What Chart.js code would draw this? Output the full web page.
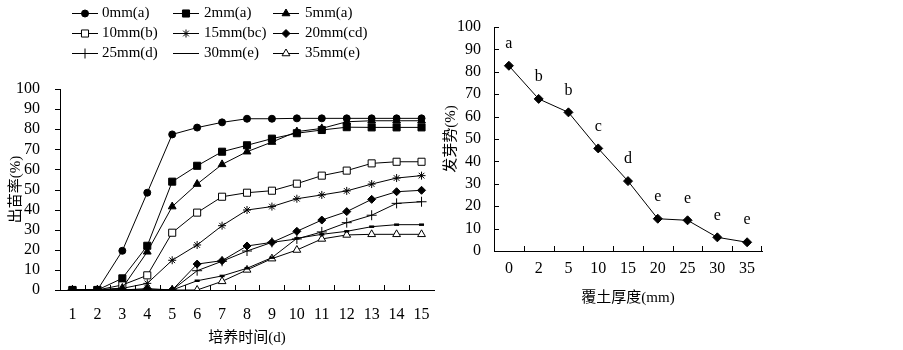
<!DOCTYPE html>
<html>
<head>
<meta charset="utf-8">
<script src="https://cdn.jsdelivr.net/npm/chart.js@4.4.1/dist/chart.umd.min.js"></script>
<style>
  body { margin: 0; background: #fff; width: 903px; height: 350px; position: relative; overflow: hidden; }
  #w1 { position: absolute; left: 0; top: 0; width: 440px; height: 350px; }
  #w2 { position: absolute; left: 440px; top: 0; width: 463px; height: 350px; }
</style>
</head>
<body>
<div id="w1"><canvas id="c1"></canvas></div>
<div id="w2"><canvas id="c2"></canvas></div>
<script>
// emergence rate (%) by day, one array per covering depth
var days = ['1', '2', '3', '4', '5', '6', '7', '8', '9', '10', '11', '12', '13', '14', '15'];
var d0mm  = [0, 0, 19.5, 48.4, 77.4, 80.8, 83.4, 85.2, 85.2, 85.4, 85.4, 85.4, 85.4, 85.4, 85.4];
var d2mm  = [0, 0, 5.8, 22, 53.9, 61.8, 68.8, 72, 75.3, 78, 79.6, 81, 80.9, 80.9, 80.9];
var d5mm  = [0, 0, 1, 19, 41.5, 52.7, 62.5, 68.8, 73.6, 78.8, 80.4, 83.7, 84.2, 84.2, 84.2];
var d10mm = [0, 0, 2.5, 7.3, 28.5, 38.5, 46.4, 48.4, 49.4, 52.9, 56.9, 59.4, 63, 63.8, 63.8];
var d15mm = [0, 0, 0.8, 3.3, 14.8, 22.4, 32, 39.8, 41.5, 45.4, 47.3, 49.3, 52.7, 55.7, 56.9];
var d20mm = [0, 0, 0, 0.7, 0, 12.9, 14.6, 21.9, 23.7, 29.2, 34.8, 39, 45.1, 48.9, 49.6];
var d25mm = [0, 0, 0, 0, 0, 9.6, 14.3, 19.4, 23.7, 25.4, 28.9, 33.5, 37.2, 43.1, 43.9];
var d30mm = [0, 0, 0, 0, 0, 4.6, 7, 10.8, 16.1, 25.7, 27.7, 29.2, 31.5, 32.5, 32.5];
var d35mm = [0, 0, 0, 0, 0, 0, 4.3, 10, 15.6, 19.9, 25.4, 27.4, 27.7, 27.7, 27.7];
var yTicks = [0, 10, 20, 30, 40, 50, 60, 70, 80, 90, 100];

// germination vigor (%) by depth
var depths = ['0', '2', '5', '10', '15', '20', '25', '30', '35'];
var vigor = [82.7, 67.9, 61.9, 45.8, 31.2, 14.4, 13.7, 6.1, 3.9];
var vigorLetters = ['a', 'b', 'b', 'c', 'd', 'e', 'e', 'e', 'e'];

var serif = '"Liberation Serif", "Noto Sans CJK SC", serif';

function series(label, data, style, fill, r, bw) {
  return {
    label: label, data: data,
    borderColor: '#000', borderWidth: 1, tension: 0,
    pointStyle: style, pointRadius: r, pointHoverRadius: r,
    pointBackgroundColor: fill, pointBorderColor: '#000', pointBorderWidth: bw || 1
  };
}

// tick marks drawn by hand so they can point into the plot
var tickMarks = {
  id: 'tickMarks',
  afterDraw: function(chart, args, opts) {
    var ctx = chart.ctx, xs = chart.scales.x, ys = chart.scales.y;
    var len = 5, i, px, py;
    ctx.save();
    ctx.strokeStyle = '#000';
    ctx.lineWidth = 1;
    ctx.beginPath();
    var n = xs.ticks.length;
    for (i = 1; i < n; i++) {
      px = Math.round((xs.getPixelForValue(i - 1) + xs.getPixelForValue(i)) / 2) + 0.5;
      ctx.moveTo(px, ys.bottom);
      ctx.lineTo(px, ys.bottom - len);
    }
    if (opts.xEnd) {
      px = Math.round(xs.right) - 0.5;
      ctx.moveTo(px, ys.bottom);
      ctx.lineTo(px, ys.bottom - len);
    }
    ys.ticks.forEach(function(t) {
      py = Math.round(ys.getPixelForValue(t.value)) + 0.5;
      ctx.moveTo(xs.left, py);
      ctx.lineTo(xs.left + opts.yDir * len, py);
    });
    ctx.stroke();
    ctx.restore();
  }
};

var legendBox = {
  id: 'legendBox',
  afterDraw: function(chart) {
    var ctx = chart.ctx;
    var lineX = [72, 173, 273], textX = [102, 204, 305], rowY = [13, 33, 53];
    ctx.save();
    ctx.font = '15px ' + serif;
    ctx.textBaseline = 'middle';
    chart.data.datasets.forEach(function(ds, i) {
      var c = i % 3, r = Math.floor(i / 3);
      var x0 = lineX[c], y0 = rowY[r] + 0.5;
      ctx.strokeStyle = '#000';
      ctx.lineWidth = 1;
      ctx.beginPath();
      ctx.moveTo(x0, y0);
      ctx.lineTo(x0 + 26, y0);
      ctx.stroke();
      ctx.fillStyle = ds.pointBackgroundColor;
      Chart.helpers.drawPoint(ctx, {
        pointStyle: ds.pointStyle, radius: ds.pointRadius, rotation: 0, borderWidth: ds.pointBorderWidth
      }, x0 + 13, y0);
      ctx.fillStyle = '#000';
      ctx.fillText(ds.label, textX[c], rowY[r]);
    });
    ctx.restore();
  }
};

var letterLabels = {
  id: 'letterLabels',
  afterDatasetsDraw: function(chart) {
    var ctx = chart.ctx, xs = chart.scales.x, ys = chart.scales.y;
    ctx.save();
    ctx.font = '16px ' + serif;
    ctx.fillStyle = '#000';
    ctx.textAlign = 'center';
    ctx.textBaseline = 'middle';
    vigor.forEach(function(v, i) {
      ctx.fillText(vigorLetters[i], xs.getPixelForValue(i), ys.getPixelForValue(v) - 22);
    });
    ctx.restore();
  }
};

function yAxis(title, width, pad, titlePad) {
  return {
    min: 0, max: 100,
    afterFit: function(s) { s.width = width; },
    afterBuildTicks: function(s) { s.ticks = yTicks.map(function(v) { return { value: v }; }); },
    grid: { display: false },
    border: { display: true, color: '#000', width: 1 },
    ticks: { color: '#000', padding: pad, autoSkip: false, font: { family: serif, size: 16 } },
    title: { display: true, text: title, color: '#000', padding: { top: titlePad, bottom: 0 },
             font: { family: serif, size: 15 } }
  };
}

function xAxis(title, height, pad, titlePad) {
  return {
    offset: true,
    afterFit: function(s) { s.height = height; },
    grid: { display: false, offset: true },
    border: { display: true, color: '#000', width: 1 },
    ticks: { color: '#000', padding: pad, maxRotation: 0, autoSkip: false,
             font: { family: serif, size: 16 } },
    title: { display: true, text: title, color: '#000', padding: { top: 0, bottom: titlePad },
             font: { family: serif, size: 15 } }
  };
}

new Chart(document.getElementById('c1'), {
  type: 'line',
  data: {
    labels: days,
    datasets: [
      series('0mm(a)', d0mm, 'circle', '#000', 3.5),
      series('2mm(a)', d2mm, 'rect', '#000', 5),
      series('5mm(a)', d5mm, 'triangle', '#000', 4.5),
      series('10mm(b)', d10mm, 'rect', '#fff', 5),
      series('15mm(bc)', d15mm, 'star', '#fff', 4),
      series('20mm(cd)', d20mm, 'rectRot', '#000', 4),
      series('25mm(d)', d25mm, 'cross', '#000', 5),
      series('30mm(e)', d30mm, 'line', '#000', 2.5, 2.5),
      series('35mm(e)', d35mm, 'triangle', '#fff', 4.5)
    ]
  },
  options: {
    responsive: true, maintainAspectRatio: false, animation: false,
    layout: { padding: { top: 89, right: 5, left: 0, bottom: 0 } },
    plugins: { legend: { display: false }, tooltip: { enabled: false }, tickMarks: { yDir: -1, xEnd: false } },
    scales: {
      x: xAxis('培养时间(d)', 60, 7, 3),
      y: yAxis('出苗率(%)', 60, 12, 7)
    }
  },
  plugins: [tickMarks, legendBox]
});

new Chart(document.getElementById('c2'), {
  type: 'line',
  data: {
    labels: depths,
    datasets: [series('发芽势', vigor, 'rectRot', '#000', 4.5)]
  },
  options: {
    responsive: true, maintainAspectRatio: false, animation: false,
    layout: { padding: { top: 27, right: 141, left: 0, bottom: 0 } },
    plugins: { legend: { display: false }, tooltip: { enabled: false }, tickMarks: { yDir: 1, xEnd: true } },
    scales: {
      x: xAxis('覆土厚度(mm)', 99, 0, 43),
      y: yAxis('发芽势(%)', 54, 5, 2)
    }
  },
  plugins: [tickMarks, letterLabels]
});
</script>
</body>
</html>
